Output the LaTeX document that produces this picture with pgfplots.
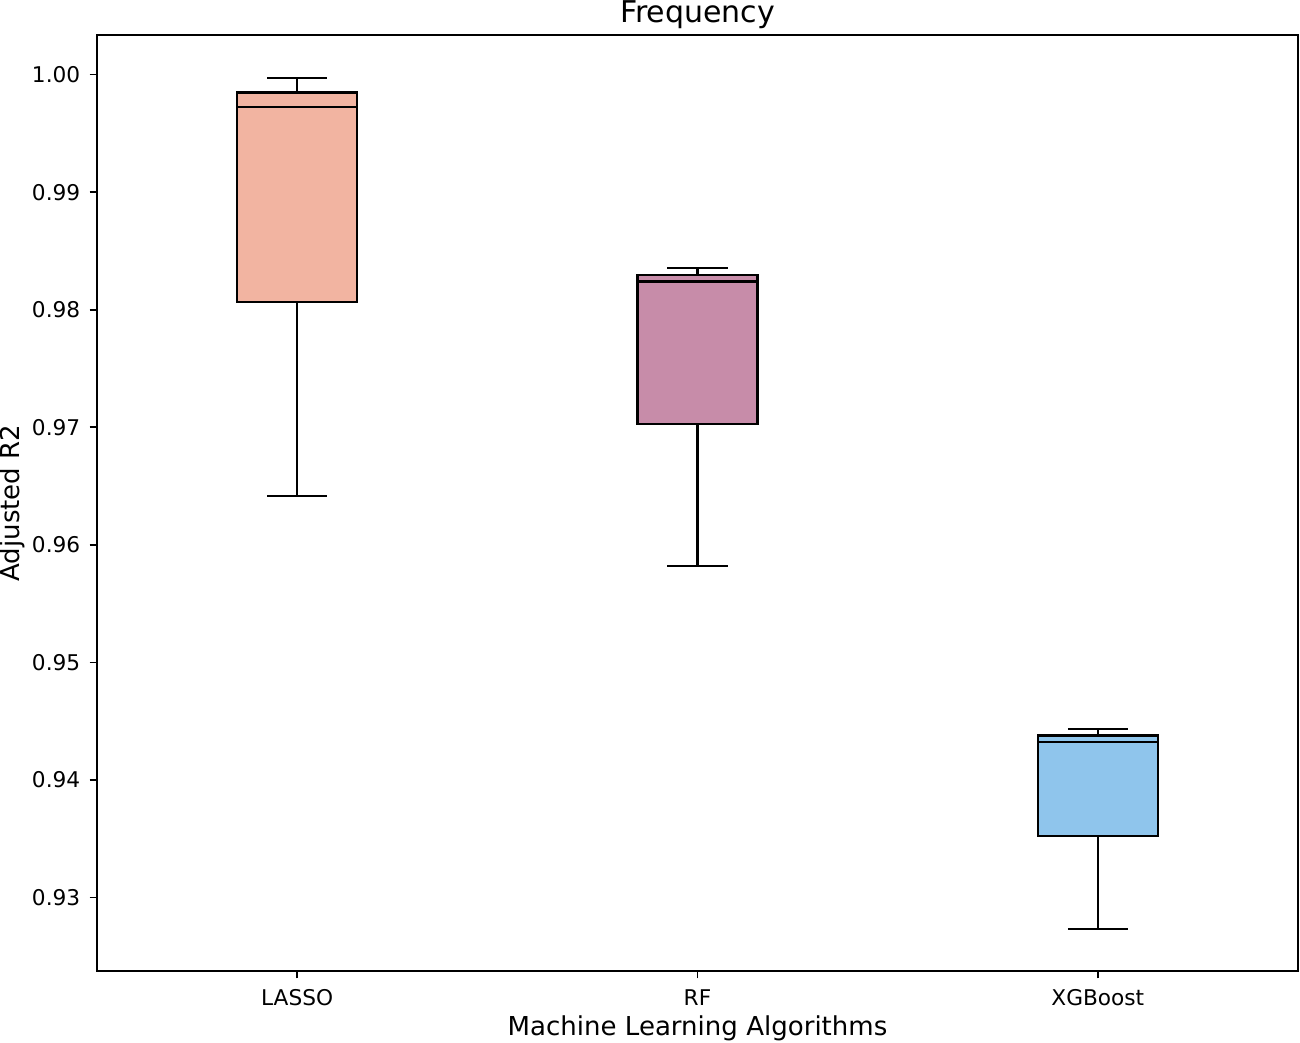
\documentclass[border=0pt]{standalone}
\usepackage{pgfplots}
\pgfplotsset{compat=1.18}
\usepgfplotslibrary{statistics}
\usepackage{fontspec}
\setmainfont{DejaVu Sans}
\definecolor{lassoc}{HTML}{F2B4A1}
\definecolor{rfc}{HTML}{C78CA9}
\definecolor{xgbc}{HTML}{8FC5EC}
\begin{document}
\begin{tikzpicture}
\begin{axis}[
  name=ax,
  scale only axis,
  width=576.5pt, height=449.3pt,
  xmin=0.5, xmax=3.5,
  ymin=0.92375, ymax=1.00337,
  xtick={1,2,3},
  xticklabels={LASSO,RF,XGBoost},
  ytick={0.93,0.94,0.95,0.96,0.97,0.98,0.99,1.00},
  yticklabel style={/pgf/number format/fixed, /pgf/number format/fixed zerofill, /pgf/number format/precision=2, /pgf/number format/assume math mode=true, anchor=east, inner sep=0pt, xshift=-4.35pt, font=\fontsize{10.4}{12.5}\selectfont},
  xticklabel style={anchor=base, inner sep=0pt, yshift=-13pt, font=\fontsize{10.4}{12.5}\selectfont},
  scaled y ticks=false,
  tick pos=left,
  tick align=outside,
  major tick length=3.5pt,
  every tick/.style={black, line width=0.8pt},
  axis line style={black, line width=0.8pt},
  xlabel={Machine Learning Algorithms},
  ylabel={Adjusted R2},
  title={Frequency},
  xlabel style={at={(axis description cs:0.5,-0.0694)}, anchor=base, inner sep=0pt, font=\fontsize{12.5}{15}\selectfont},
  ylabel style={at={(axis description cs:-0.0645,0.5)}, anchor=base, inner sep=0pt, font=\fontsize{12.5}{15}\selectfont},
  every axis title/.style={at={(axis description cs:0.5,1)}, anchor=base, yshift=6.2pt, inner sep=0pt, font=\fontsize{14.4}{17}\selectfont},
  boxplot/draw direction=y,
  boxplot/box extend=0.3,
  boxplot/whisker extend=0.15,
]
\addplot[boxplot prepared={draw direction=y, draw position=1, lower whisker=0.96414, lower quartile=0.98066, median=0.99722, upper quartile=0.99847, upper whisker=0.99974}, draw=black, fill=lassoc, line width=1.1pt] coordinates {};
\addplot[boxplot prepared={draw direction=y, draw position=2, lower whisker=0.95819, lower quartile=0.97026, median=0.98240, upper quartile=0.98293, upper whisker=0.98355}, draw=black, fill=rfc, line width=1.1pt] coordinates {};
\addplot[boxplot prepared={draw direction=y, draw position=3, lower whisker=0.92730, lower quartile=0.93526, median=0.94320, upper quartile=0.94379, upper whisker=0.94433}, draw=black, fill=xgbc, line width=1.1pt] coordinates {};
\end{axis}
\pgfresetboundingbox
\path[use as bounding box] ([shift={(-46.56pt,-34.08pt)}]ax.south west) rectangle ([shift={(0.96pt,16.8pt)}]ax.north east);
\end{tikzpicture}
\end{document}
